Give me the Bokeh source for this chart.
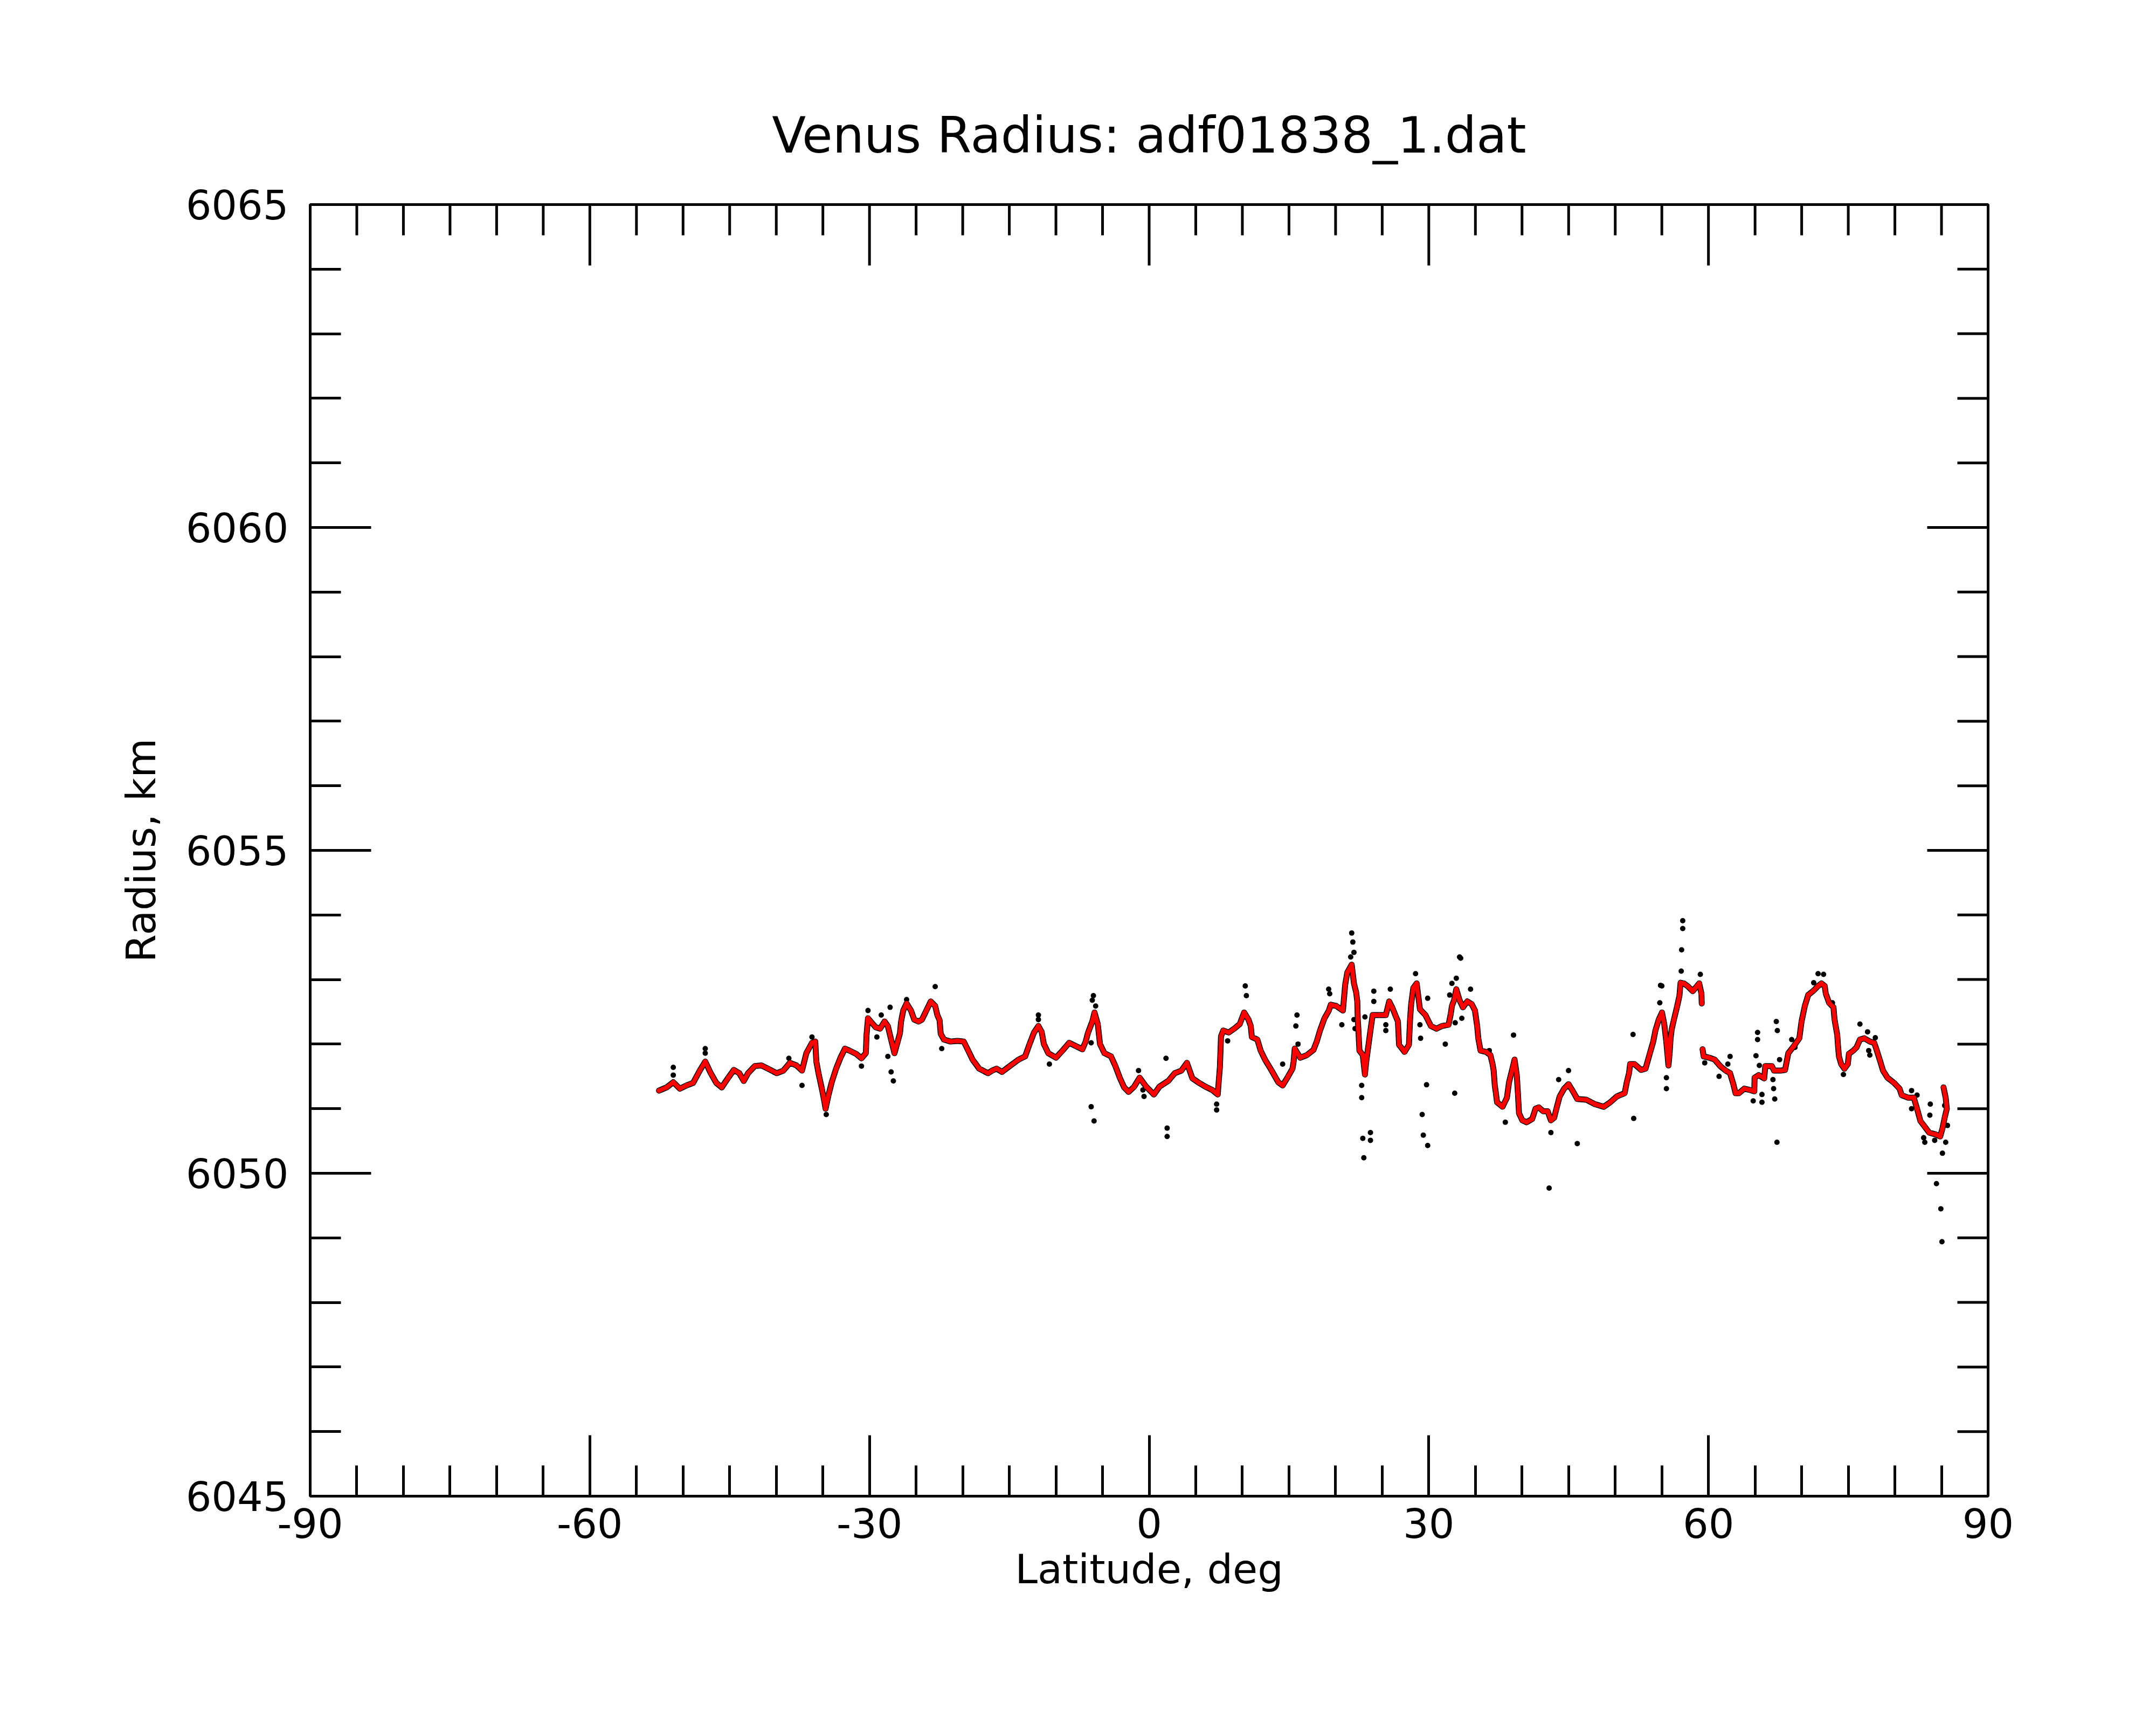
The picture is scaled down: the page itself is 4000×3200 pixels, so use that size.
import numpy as np
from bokeh.plotting import figure
from bokeh.models import Range1d, LinearAxis, FixedTicker, ColumnDataSource
from bokeh.embed import file_html
from bokeh.resources import INLINE

# ---------------- data ----------------
title_text = "Venus Radius: adf01838_1.dat"
x_label = "Latitude, deg"
y_label = "Radius, km"

x_major = [-90, -60, -30, 0, 30, 60, 90]
x_minor = list(range(-90, 91, 5))
y_major = [6045, 6050, 6055, 6060, 6065]
y_minor = list(range(6045, 6066, 1))

# smoothed radius profile (red dots)
smooth_lat = [
    -52.58, -51.76, -51.05, -50.34, -49.63, -48.92, -48.21, -47.62, -47.03, -46.44,
    -45.85, -45.15, -44.56, -43.97, -43.49, -43.02, -42.31, -41.60, -40.90, -39.95,
    -39.24, -38.54, -37.83, -37.24, -36.77, -36.17, -35.82, -35.70, -35.47, -35.11,
    -34.88, -34.71, -34.40, -34.05, -33.58, -33.11, -32.63, -32.16, -31.45, -30.86,
    -30.39, -30.32, -30.16, -29.33, -28.86, -28.38, -28.03, -27.68, -27.32, -26.97,
    -26.73, -26.61, -26.38, -26.02, -25.55, -25.20, -24.73, -24.37, -23.90, -23.43,
    -22.95, -22.72, -22.48, -22.36, -22.01, -21.30, -20.59, -19.89, -19.41, -18.94,
    -18.23, -17.29,
    -16.84, -16.37, -15.78, -14.95, -14.01, -13.30, -12.83, -12.35, -11.88, -11.53,
    -11.29, -10.82, -9.99, -9.29, -8.58, -7.87, -7.16, -6.81, -6.57, -6.10,
    -5.86, -5.51, -5.27, -4.80, -4.09, -3.62, -3.15, -2.68, -2.20, -1.61,
    -1.02, -0.31, 0.51, 1.10, 2.05, 2.75, 3.46, 4.05, 4.64, 5.35,
    6.06, 6.77, 7.36, 7.48, 7.59, 7.71, 7.95, 8.54, 9.13, 9.72,
    10.19, 10.66, 10.90, 11.02, 11.61, 11.96, 12.43, 13.14, 13.85, 14.32,
    14.91, 15.38, 15.50, 15.62, 16.21, 16.92, 17.63, 17.98, 18.33, 18.81,
    19.28,
    19.49, 20.08, 20.79, 21.03, 21.26, 21.73, 21.97, 22.21, 22.33, 22.38,
    22.44, 22.56, 22.92, 23.15, 23.27, 23.74, 23.98, 24.69, 25.39, 25.75,
    26.10, 26.46, 26.69, 26.81, 27.40, 27.87, 27.99, 28.11, 28.34, 28.70,
    29.05, 29.64, 30.23, 30.82, 31.41, 32.12, 32.36, 32.48, 32.71, 32.95,
    33.30, 33.66, 34.13, 34.60, 34.95, 35.19, 35.31, 35.55, 36.14, 36.61,
    36.84, 36.96, 37.08, 37.20, 37.32, 37.91, 38.38, 38.61, 38.97, 39.20,
    39.44, 39.56, 39.68, 40.03, 40.50, 41.09, 41.45, 41.80, 42.27, 42.75,
    43.10, 43.45, 43.69, 44.04, 44.52, 44.99, 45.46, 45.93, 46.88, 47.82,
    48.77, 49.47, 50.18, 51.01, 51.24, 51.48, 51.60, 52.07, 52.78, 53.25,
    53.72, 54.08, 54.31, 54.67, 55.02, 55.26, 55.47, 55.61, 55.71, 55.83,
    55.94, 56.06, 56.30, 56.65, 56.89, 57.01, 57.36, 57.83, 58.31, 58.78,
    59.01, 59.25, 59.28,
    59.37, 59.49, 60.08, 60.67, 61.26, 61.85, 62.32, 62.67, 62.91, 63.26,
    63.85, 64.44, 64.92, 64.95, 65.39, 65.98, 66.10, 66.80, 67.04, 67.75,
    68.22, 68.57, 69.16, 69.75, 69.99, 70.34, 70.70, 71.29, 71.76, 72.12,
    72.47, 72.59, 72.94, 73.41, 73.53, 73.65, 73.82, 73.89, 74.00, 74.24,
    74.59, 74.95, 75.07, 75.54, 75.89, 76.25, 76.72, 77.31, 77.78, 78.02,
    78.37, 78.73, 79.20, 79.91, 80.50, 80.73, 81.44, 82.03, 82.38, 82.74,
    83.21, 83.68, 84.39, 84.86, 85.10, 85.34, 85.57, 85.45, 85.22,
]
smooth_rad = [
    6051.28, 6051.33, 6051.41, 6051.31, 6051.36, 6051.40, 6051.59, 6051.73, 6051.55, 6051.40,
    6051.33, 6051.48, 6051.60, 6051.55, 6051.43, 6051.55, 6051.66, 6051.67, 6051.62, 6051.55,
    6051.59, 6051.71, 6051.67, 6051.59, 6051.86, 6052.02, 6052.04, 6051.73, 6051.55, 6051.31,
    6051.14, 6051.00, 6051.21, 6051.41, 6051.62, 6051.79, 6051.93, 6051.90, 6051.85, 6051.78,
    6051.86, 6052.14, 6052.40, 6052.26, 6052.24, 6052.35, 6052.28, 6052.07, 6051.86, 6052.04,
    6052.17, 6052.35, 6052.52, 6052.63, 6052.52, 6052.38, 6052.35, 6052.38, 6052.52, 6052.66,
    6052.59, 6052.45, 6052.37, 6052.16, 6052.07, 6052.04, 6052.05, 6052.04, 6051.90, 6051.76,
    6051.62, 6051.55,
    6051.59, 6051.62, 6051.57, 6051.66, 6051.76, 6051.81, 6052.00, 6052.18, 6052.28, 6052.19,
    6052.00, 6051.86, 6051.79, 6051.90, 6052.02, 6051.97, 6051.92, 6052.04, 6052.17, 6052.35,
    6052.49, 6052.31, 6052.00, 6051.86, 6051.81, 6051.66, 6051.48, 6051.33, 6051.26, 6051.34,
    6051.48, 6051.34, 6051.22, 6051.34, 6051.43, 6051.55, 6051.59, 6051.71, 6051.47, 6051.40,
    6051.34, 6051.29, 6051.22, 6051.45, 6051.64, 6052.12, 6052.21, 6052.18, 6052.24, 6052.31,
    6052.49, 6052.38, 6052.28, 6052.11, 6052.07, 6051.90, 6051.76, 6051.59, 6051.41, 6051.36,
    6051.50, 6051.62, 6051.73, 6051.93, 6051.79, 6051.83, 6051.91, 6052.04, 6052.21, 6052.40,
    6052.52,
    6052.61, 6052.59, 6052.52, 6052.92, 6053.11, 6053.23, 6052.94, 6052.80, 6052.66, 6052.38,
    6052.24, 6051.90, 6051.83, 6051.53, 6051.71, 6052.21, 6052.45, 6052.45, 6052.45, 6052.66,
    6052.56, 6052.43, 6052.35, 6051.99, 6051.88, 6051.99, 6052.38, 6052.62, 6052.87, 6052.94,
    6052.54, 6052.45, 6052.28, 6052.24, 6052.28, 6052.30, 6052.47, 6052.59, 6052.68, 6052.85,
    6052.68, 6052.57, 6052.66, 6052.62, 6052.52, 6052.28, 6052.09, 6051.90, 6051.88, 6051.83,
    6051.69, 6051.59, 6051.36, 6051.24, 6051.10, 6051.03, 6051.17, 6051.41, 6051.62, 6051.76,
    6051.52, 6051.24, 6050.93, 6050.82, 6050.79, 6050.84, 6051.00, 6051.02, 6050.96, 6050.96,
    6050.82, 6050.86, 6051.00, 6051.19, 6051.31, 6051.38, 6051.27, 6051.15, 6051.14, 6051.07,
    6051.03, 6051.10, 6051.19, 6051.24, 6051.41, 6051.55, 6051.69, 6051.69, 6051.60, 6051.62,
    6051.86, 6052.04, 6052.21, 6052.38, 6052.49, 6052.31, 6052.05, 6051.83, 6051.67, 6051.85,
    6052.09, 6052.23, 6052.38, 6052.59, 6052.75, 6052.95, 6052.94, 6052.89, 6052.82, 6052.90,
    6052.94, 6052.78, 6052.63,
    6051.92, 6051.81, 6051.79, 6051.76, 6051.66, 6051.59, 6051.55, 6051.38, 6051.24, 6051.24,
    6051.31, 6051.29, 6051.27, 6051.48, 6051.52, 6051.47, 6051.66, 6051.66, 6051.59, 6051.59,
    6051.60, 6051.86, 6051.97, 6052.09, 6052.35, 6052.59, 6052.76, 6052.83, 6052.90, 6052.94,
    6052.90, 6052.78, 6052.64, 6052.57, 6052.38, 6052.28, 6052.14, 6051.99, 6051.81, 6051.69,
    6051.62, 6051.69, 6051.85, 6051.90, 6051.95, 6052.07, 6052.09, 6052.04, 6052.02, 6051.92,
    6051.76, 6051.59, 6051.48, 6051.40, 6051.31, 6051.21, 6051.17, 6051.17, 6051.00, 6050.81,
    6050.72, 6050.63, 6050.60, 6050.57, 6050.69, 6050.86, 6051.00, 6051.17, 6051.33,
]
# latitude after which the smoothed trace has a gap
trace_gap_after = [59.28]

# raw measurements that stand off the smoothed trace (black dots)
raw_lat = [
    -51.05, -51.05, -47.62, -47.62, -38.65, -37.24, -36.17, -34.64, -30.86, -30.16,
    -29.21, -28.74, -28.03, -27.79, -27.68, -27.44, -26.02, -22.95, -22.25, -11.88,
    -11.88, -10.70, -6.22, -6.22, -6.10, -5.98, -5.91, -5.74, -1.14, -0.67,
    -0.55, 1.81, 1.93, 1.93, 7.24, 7.24, 8.42, 10.31, 10.43, 14.32,
    15.74, 15.86, 15.97, 19.26, 19.37, 20.67, 21.62, 21.73, 21.85, 21.97,
    21.97, 22.09, 22.80, 22.80, 22.92, 23.03, 23.15, 23.74, 23.74, 24.10,
    24.10, 25.39, 25.39, 25.87, 28.58, 29.05, 29.12, 29.29, 29.41, 29.76,
    29.88, 29.88, 31.77, 32.24, 32.48, 32.78, 32.83, 32.95, 33.30, 33.42,
    33.54, 34.48, 36.49, 38.21, 39.09, 42.91, 43.10, 43.93, 44.99, 45.93,
    51.91, 51.98, 54.78, 54.86, 55.00, 55.49, 55.49, 57.08, 57.12, 57.24,
    57.24, 59.13, 59.60, 61.14, 62.08, 62.32, 64.80, 65.10, 65.27, 65.27,
    65.46, 65.74, 65.74, 66.92, 66.99, 67.11, 67.28, 67.35, 67.39, 67.63,
    68.93, 69.28, 71.29, 71.76, 72.35, 73.30, 74.48, 76.25, 77.07, 77.19,
    77.31, 77.90, 81.79, 81.79, 82.38, 83.09, 83.21, 83.75, 83.80, 84.27,
    84.46, 84.93, 85.05, 85.10, 85.34, 85.45, 85.64,
]
raw_rad = [
    6051.64, 6051.52, 6051.93, 6051.86, 6051.78, 6051.36, 6052.11, 6050.91, 6051.66, 6052.52,
    6052.11, 6052.45, 6051.81, 6052.57, 6051.57, 6051.43, 6052.69, 6052.89, 6051.93, 6052.45,
    6052.38, 6051.69, 6052.02, 6051.03, 6052.68, 6052.75, 6050.81, 6052.59, 6051.59, 6051.29,
    6051.19, 6051.78, 6050.70, 6050.57, 6051.07, 6050.98, 6052.05, 6052.90, 6052.75, 6051.69,
    6052.28, 6052.45, 6052.00, 6052.85, 6052.78, 6052.30, 6053.35, 6053.72, 6053.58, 6053.42,
    6052.38, 6052.24, 6051.36, 6051.17, 6050.54, 6050.24, 6052.42, 6050.63, 6050.51, 6052.82,
    6052.66, 6052.30, 6052.21, 6052.85, 6053.09, 6052.30, 6052.09, 6050.91, 6050.59, 6051.37,
    6052.71, 6050.43, 6052.00, 6052.76, 6052.94, 6051.24, 6052.33, 6053.02, 6053.35, 6053.33,
    6052.40, 6052.85, 6051.90, 6050.79, 6052.14, 6049.77, 6050.63, 6051.45, 6051.59, 6050.46,
    6052.15, 6050.85, 6052.64, 6052.91, 6052.90, 6051.48, 6051.31, 6053.13, 6053.46, 6053.79,
    6053.91, 6053.08, 6051.71, 6051.50, 6051.69, 6051.81, 6051.12, 6051.82, 6052.18, 6052.07,
    6051.67, 6051.22, 6051.10, 6051.45, 6051.31, 6051.15, 6052.35, 6050.48, 6052.21, 6051.76,
    6052.07, 6051.95, 6052.95, 6053.09, 6053.08, 6052.64, 6051.53, 6052.31, 6052.19, 6051.90,
    6051.83, 6052.10, 6051.28, 6051.00, 6051.21, 6050.55, 6050.48, 6050.90, 6051.07, 6050.51,
    6049.84, 6049.45, 6048.94, 6050.31, 6051.05, 6050.48, 6050.74,
]

# ---------------- figure ----------------
FONT = "DejaVu Sans"
W, H = 3984, 3184
BL, BR, BT, BB = 575, 296, 379, 409          # borders around the frame (px)
MAJ_LEN, MIN_LEN, TICK_W = 113, 57, 5        # tick lengths / width (px)

x0, x1 = -90, 90
y0, y1 = 6045, 6065

p = figure(width=W, height=H, output_backend="svg", toolbar_location=None,
           x_range=Range1d(x0, x1), y_range=Range1d(y0, y1),
           x_axis_location=None, y_axis_location=None,
           min_border_left=BL, min_border_right=BR,
           min_border_top=BT, min_border_bottom=BB,
           background_fill_color="white", border_fill_color="white")
p.outline_line_color = "black"
p.outline_line_width = 5
try:
    p.xgrid.visible = False
    p.ygrid.visible = False
except Exception:
    pass

p.title.text = title_text
p.title.align = "center"
p.title.text_font = FONT
p.title.text_font_size = "92px"
p.title.text_font_style = "normal"
p.title.text_color = "black"
p.title.standoff = 150


def make_axis(major, minor, **kw):
    return LinearAxis(ticker=FixedTicker(ticks=major, minor_ticks=minor),
                      axis_line_width=5, axis_line_color="black",
                      major_tick_in=MAJ_LEN, major_tick_out=0,
                      minor_tick_in=MIN_LEN, minor_tick_out=0,
                      major_tick_line_width=TICK_W, minor_tick_line_width=TICK_W,
                      major_tick_line_color="black", minor_tick_line_color="black",
                      major_label_text_font=FONT, major_label_text_font_size="75px",
                      major_label_text_color="black",
                      major_label_overrides={v: str(v) for v in major},
                      axis_label_text_font=FONT, axis_label_text_font_size="75px",
                      axis_label_text_font_style="normal", axis_label_text_color="black",
                      **kw)


bottom = make_axis(x_major, x_minor, major_label_standoff=22,
                   axis_label=x_label, axis_label_standoff=11)
left = make_axis(y_major, y_minor, major_label_standoff=40,
                 axis_label=y_label, axis_label_standoff=36)
p.add_layout(bottom, "below")
p.add_layout(left, "left")

# mirrored inward ticks on the top and right frame edges (no labels)
frame_w = W - BL - BR
frame_h = H - BT - BB
dx_per_px = (x1 - x0) / frame_w
dy_per_px = (y1 - y0) / frame_h
x_min_only = [v for v in x_minor if v not in x_major]
y_min_only = [v for v in y_minor if v not in y_major]
top_ticks = ColumnDataSource(dict(
    x=x_major + x_min_only,
    ya=[y1] * (len(x_major) + len(x_min_only)),
    yb=[y1 - MAJ_LEN * dy_per_px] * len(x_major) + [y1 - MIN_LEN * dy_per_px] * len(x_min_only)))
right_ticks = ColumnDataSource(dict(
    y=y_major + y_min_only,
    xa=[x1] * (len(y_major) + len(y_min_only)),
    xb=[x1 - MAJ_LEN * dx_per_px] * len(y_major) + [x1 - MIN_LEN * dx_per_px] * len(y_min_only)))
p.segment(x0="x", y0="ya", x1="x", y1="yb", source=top_ticks,
          line_color="black", line_width=TICK_W, line_cap="butt")
p.segment(x0="xa", y0="y", x1="xb", y1="y", source=right_ticks,
          line_color="black", line_width=TICK_W, line_cap="butt")

# trace with gap breaks for the connecting band
line_lat, line_rad = [], []
for la, ra in zip(smooth_lat, smooth_rad):
    line_lat.append(la)
    line_rad.append(ra)
    if la in trace_gap_after:
        line_lat.append(np.nan)
        line_rad.append(np.nan)

band = ColumnDataSource(dict(x=line_lat, y=line_rad))
pts = ColumnDataSource(dict(x=smooth_lat, y=smooth_rad))
raw = ColumnDataSource(dict(x=raw_lat, y=raw_rad))

# raw (black) underneath
p.line("x", "y", source=band, line_color="black", line_width=11,
       line_join="round", line_cap="round")
p.scatter("x", "y", source=pts, marker="circle", size=10, fill_color="black",
          line_color=None)
p.scatter("x", "y", source=raw, marker="circle", size=10, fill_color="black",
          line_color=None)
# smoothed (red) on top
p.line("x", "y", source=band, line_color="#ff0000", line_width=8,
       line_join="round", line_cap="round")
p.scatter("x", "y", source=pts, marker="circle", size=9, fill_color="#ff0000",
          line_color=None)

open("out.html", "w").write(file_html(p, INLINE))
